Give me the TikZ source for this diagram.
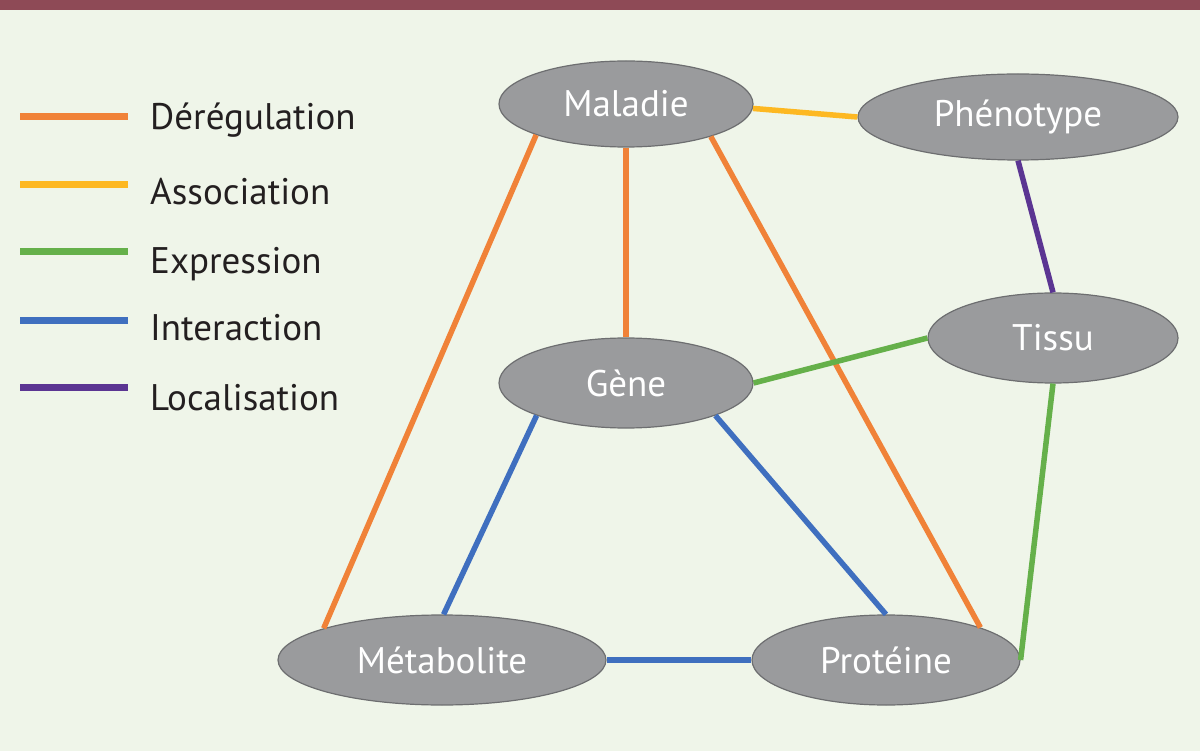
\documentclass[tikz,border=0pt]{standalone}
\usepackage{fontspec}
\setmainfont{PT Sans}
\usetikzlibrary{shapes.geometric}
\definecolor{bgc}{HTML}{EFF5E9}
\definecolor{barc}{HTML}{8E4A56}
\definecolor{nodefill}{HTML}{9A9B9D}
\definecolor{nodeline}{HTML}{6D6E70}
\definecolor{corange}{HTML}{F08238}
\definecolor{cyellow}{HTML}{FDB822}
\definecolor{cgreen}{HTML}{65B04A}
\definecolor{cblue}{HTML}{3F6FBF}
\definecolor{cpurple}{HTML}{5B3592}
\definecolor{ctext}{HTML}{231F20}
\tikzset{
  ent/.style={ellipse, draw=nodeline, line width=1.2pt, fill=nodefill, text=white,
    inner sep=0pt, font=\fontsize{37}{42}\selectfont},
  lnk/.style={line width=5.5pt},
  legline/.style={line width=7pt},
  legtext/.style={anchor=base west, inner sep=0pt, text=ctext, font=\fontsize{37}{42}\selectfont},
}
\begin{document}
\begin{tikzpicture}[x=1pt,y=-1pt]
\useasboundingbox (0,0) rectangle (1200,751);
\fill[bgc] (0,0) rectangle (1200,751);
\fill[barc] (0,0) rectangle (1200,10);

% nodes
\node[ent, minimum width=254pt, minimum height=86pt] (mal) at (626,104) {Maladie};
\node[ent, minimum width=320pt, minimum height=86pt] (phe) at (1018,117) {Phénotype};
\node[ent, minimum width=250pt, minimum height=90pt] (tis) at (1053,338) {Tissu};
\node[ent, minimum width=254pt, minimum height=90pt] (gen) at (626,383) {Gène};
\node[ent, minimum width=328pt, minimum height=90pt] (met) at (442,660) {Métabolite};
\node[ent, minimum width=268pt, minimum height=90pt] (pro) at (886,660) {Protéine};

% links
\draw[lnk, cyellow] (mal.-2) -- (phe.west);
\draw[lnk, corange] (mal.south) -- (gen.north);
\draw[lnk, corange] (mal.199) -- (met.165);
\draw[lnk, corange] (mal.-21) -- (pro.19);
\draw[lnk, cpurple] (phe.south) -- (tis.north);
\draw[lnk, cgreen] (gen.east) -- (tis.west);
\draw[lnk, cgreen] (tis.south) -- (pro.east);
\draw[lnk, cblue] (gen.200) -- (met.88);
\draw[lnk, cblue] (gen.-20) -- (pro.north);
\draw[lnk, cblue] (met.east) -- (pro.west);

% legend
\coordinate (l1a) at (20,117); \coordinate (l1b) at (128,117);
\coordinate (l2a) at (20,185); \coordinate (l2b) at (128,185);
\coordinate (l3a) at (20,252); \coordinate (l3b) at (128,252);
\coordinate (l4a) at (20,321); \coordinate (l4b) at (128,321);
\coordinate (l5a) at (20,388); \coordinate (l5b) at (128,388);
\draw[legline, corange] (l1a) -- (l1b);
\draw[legline, cyellow] (l2a) -- (l2b);
\draw[legline, cgreen] (l3a) -- (l3b);
\draw[legline, cblue] (l4a) -- (l4b);
\draw[legline, cpurple] (l5a) -- (l5b);
\node[legtext] (t1) at (150,130) {Dérégulation};
\node[legtext] (t2) at (150,205) {Association};
\node[legtext] (t3) at (150,274) {Expression};
\node[legtext] (t4) at (150,341) {Interaction};
\node[legtext] (t5) at (150,410) {Localisation};
\end{tikzpicture}
\end{document}
